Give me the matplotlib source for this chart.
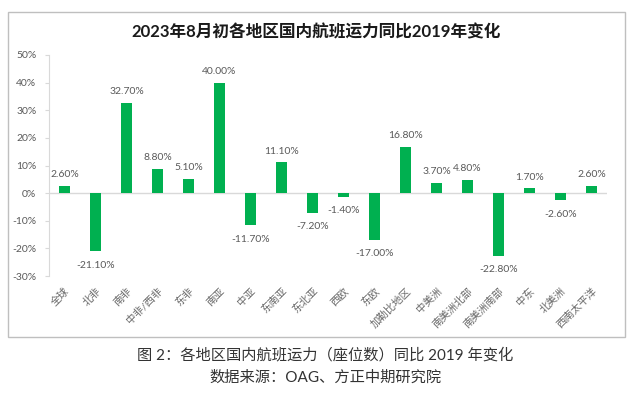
import matplotlib
matplotlib.use("Agg")
import matplotlib.pyplot as plt
from matplotlib.patches import Rectangle

plt.rcParams['font.family'] = ['Lato', 'Noto Sans CJK SC', 'DejaVu Sans']

# data
regions = ['全球', '北非', '南非', '中非/西非', '东非', '南亚', '中亚', '东南亚', '东北亚',
           '西欧', '东欧', '加勒比地区', '中美洲', '南美洲北部', '南美洲南部', '中东',
           '北美洲', '西南太平洋']
change = [2.6, -21.1, 32.7, 8.8, 5.1, 40.0, -11.7, 11.1, -7.2,
          -1.4, -17.0, 16.8, 3.7, 4.8, -22.8, 1.7, -2.6, 2.6]
y_ticks = [-30, -20, -10, 0, 10, 20, 30, 40, 50]

title = '2023年8月初各地区国内航班运力同比2019年变化'
caption1 = '图 2：各地区国内航班运力（座位数）同比 2019 年变化'
caption2 = '数据来源：OAG、方正中期研究院'

grey = '#595959'
green = '#00B050'

fig = plt.figure(figsize=(6.33, 3.94), dpi=100)
fig.patch.set_facecolor('white')

# chart frame
fig.patches.append(Rectangle((8 / 633, 1 - 337 / 394), 617 / 633, 325 / 394,
                             transform=fig.transFigure, fill=False,
                             edgecolor='#BFBFBF', linewidth=1.0))

ax = fig.add_axes([49 / 633, 1 - 276 / 394, 558 / 633, 221 / 394])
x = list(range(len(regions)))
ax.bar(x, change, width=0.33, color=green, zorder=3)
ax.set_xlim(-0.5, len(regions) - 0.5)
ax.set_ylim(-30, 50)
ax.axhline(0, color='#D9D9D9', linewidth=1, zorder=2)

for xi, v in zip(x, change):
    off = 8 if v >= 0 else -10
    ax.annotate(f'{v:.2f}%', (xi, v), xytext=(0, off), textcoords='offset points',
                ha='center', va='center', fontsize=7.5, color=grey)

ax.set_yticks(y_ticks)
ax.set_yticklabels([f'{t}%' for t in y_ticks], fontsize=7.5, color=grey)
ax.set_xticks(x)
ax.set_xticklabels(regions, rotation=45, ha='right', rotation_mode='anchor',
                   fontsize=7.5, color='#666666')
ax.tick_params(axis='x', length=0, pad=7)
ax.tick_params(axis='y', length=3, color='#D9D9D9', pad=6)
for s in ['top', 'right', 'bottom']:
    ax.spines[s].set_visible(False)
ax.spines['left'].set_color('#D9D9D9')

fig.text(316 / 633, 1 - 32 / 394, title, ha='center', va='center',
         fontsize=12, fontweight='bold', color='#1a1a1a')
fig.text(325 / 633, 1 - 355 / 394, caption1, ha='center', va='center',
         fontsize=11, color='#333333')
fig.text(325 / 633, 1 - 378 / 394, caption2, ha='center', va='center',
         fontsize=11, color='#333333')

fig.savefig('out.png', dpi=100)
